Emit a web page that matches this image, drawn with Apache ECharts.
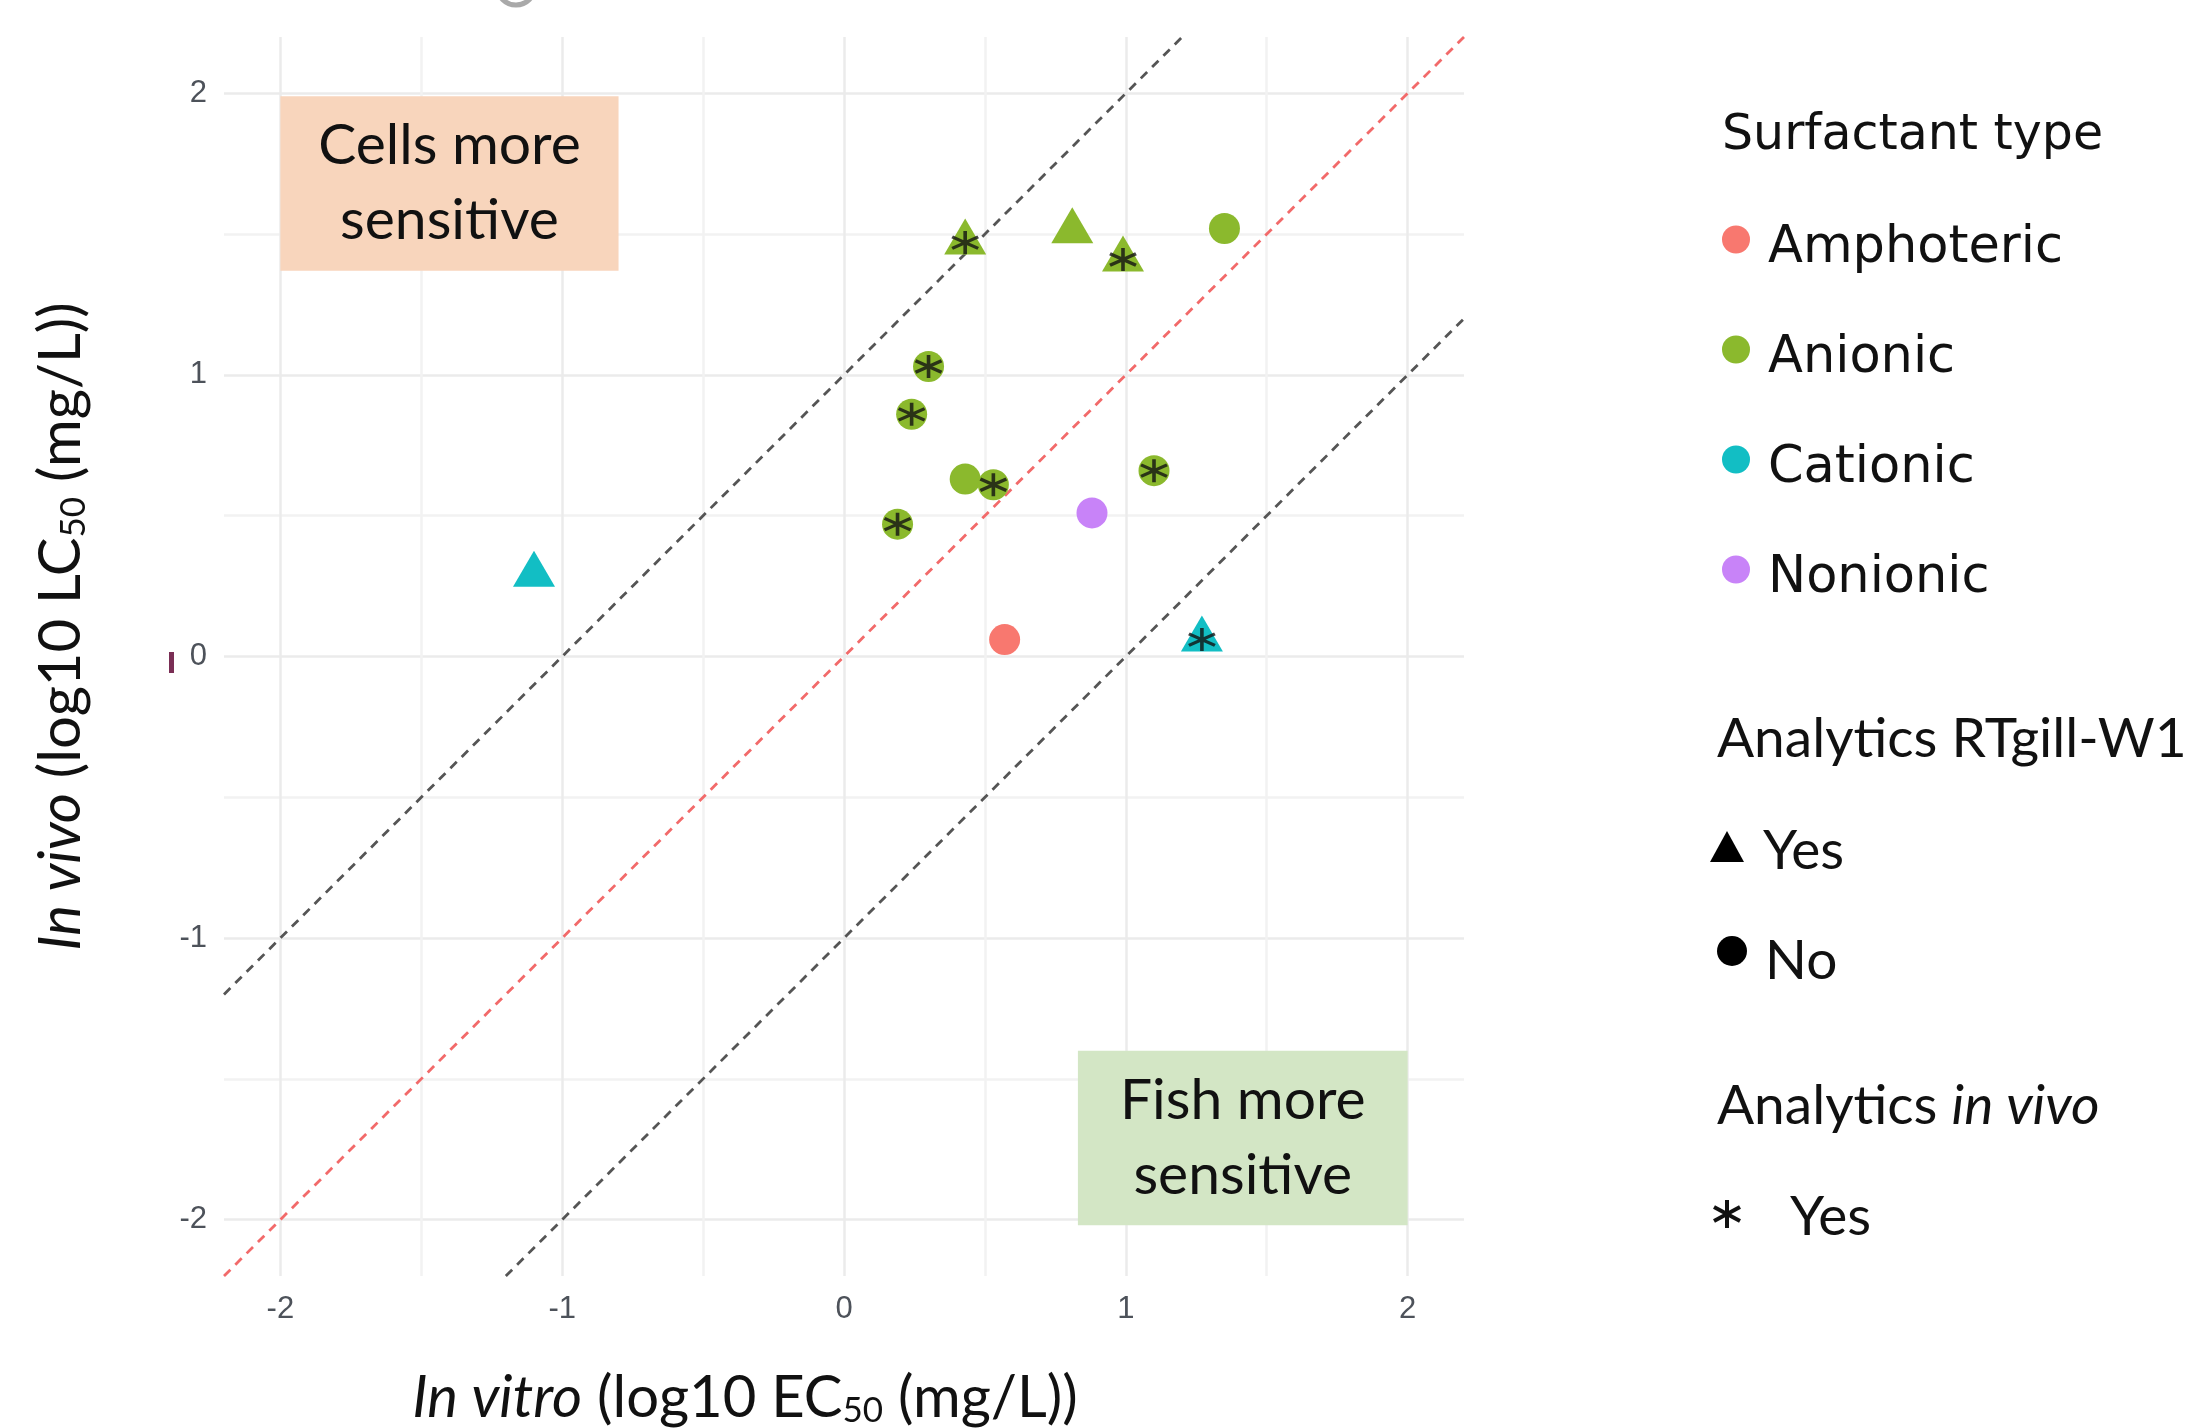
<!DOCTYPE html>
<html><head><meta charset="utf-8">
<script src="https://cdn.jsdelivr.net/npm/echarts@6/dist/echarts.min.js"></script>
<style>html,body{margin:0;padding:0;background:#fff}#c{width:2190px;height:1428px}</style>
</head><body><div id="c"></div>
<script>
// ---- data ----
const surfactantTypes = ['Amphoteric', 'Anionic', 'Cationic', 'Nonionic'];
const typeColors = ['#F8786F', '#8BB92D', '#12BEC4', '#C883F8'];
const inVitroLogEC50 = [-1.10, 0.43, 0.81, 0.99, 1.35, 0.30, 0.24, 0.43, 0.53, 1.10, 0.19, 0.88, 0.57, 1.27];
const inVivoLogLC50  = [ 0.29, 1.47, 1.51, 1.41, 1.52, 1.03, 0.86, 0.63, 0.61, 0.66, 0.47, 0.51, 0.06, 0.06];
const surfactant = ['Cationic', 'Anionic', 'Anionic', 'Anionic', 'Anionic', 'Anionic', 'Anionic',
                    'Anionic', 'Anionic', 'Anionic', 'Anionic', 'Nonionic', 'Amphoteric', 'Cationic'];
const analyticsRTgill = ['Yes', 'Yes', 'Yes', 'Yes', 'No', 'No', 'No', 'No', 'No', 'No', 'No', 'No', 'No', 'Yes'];
const analyticsInVivo = ['No', 'Yes', 'No', 'Yes', 'No', 'Yes', 'Yes', 'No', 'Yes', 'Yes', 'Yes', 'No', 'No', 'Yes'];
const axisTickValues = [-2, -1, 0, 1, 2];
const axisRange = [-2.2, 2.2];
const refLineOffsets = [0, 1, -1];          // y = x + offset
const refLineColors = ['#F26A6A', '#555555', '#555555'];

// ---- build ----
const ASTERISK = 'path://M0,-10L0,10M-8.66,-5L8.66,5M-8.66,5L8.66,-5';
const tickFormatter = v => axisTickValues.indexOf(v) >= 0 ? String(v) : '';

const refSeries = refLineOffsets.map((o, i) => {
  const x1 = Math.max(axisRange[0], axisRange[0] - o);
  const x2 = Math.min(axisRange[1], axisRange[1] - o);
  const s = {
    type: 'line', name: 'ref' + i, silent: true, symbol: 'none', z: 2,
    data: [[x1, x1 + o], [x2, x2 + o]],
    lineStyle: { color: refLineColors[i], width: 2.8, type: [9, 7] }
  };
  if (i === 0) {
    s.markArea = {
      silent: true,
      itemStyle: { opacity: 1 },
      label: { show: true, position: 'inside', fontFamily: 'Lato', fontSize: 57, lineHeight: 75, color: '#111' },
      data: [
        [{ coord: [-2.0, 1.99], itemStyle: { color: '#F8D5BC' }, label: { formatter: 'Cells more\nsensitive' } }, { coord: [-0.8, 1.37] }],
        [{ coord: [0.83, -1.40], itemStyle: { color: '#D3E6C5' }, label: { formatter: 'Fish more\nsensitive' } }, { coord: [2.0, -2.02] }]
      ]
    };
  }
  return s;
});

const typeSeries = surfactantTypes.map((t, ti) => ({
  type: 'scatter', name: t, z: 3,
  itemStyle: { color: typeColors[ti], opacity: 1 },
  data: inVitroLogEC50.map((x, i) => ({ x, i })).filter(d => surfactant[d.i] === t).map(d => {
    const tri = analyticsRTgill[d.i] === 'Yes';
    return {
      value: [d.x, inVivoLogLC50[d.i]],
      symbol: tri ? 'triangle' : 'circle',
      symbolSize: tri ? [42, 36] : 31,
      symbolOffset: tri ? [0, -6] : [0, 0]
    };
  })
}));

const asteriskSeries = {
  type: 'scatter', name: 'Analytics in vivo', z: 4, silent: true,
  symbol: ASTERISK, symbolSize: [26, 23],
  itemStyle: { color: 'rgba(0,0,0,0)', borderColor: '#111', borderWidth: 3.4 },
  data: inVitroLogEC50.map((x, i) => [x, inVivoLogLC50[i]]).filter((d, i) => analyticsInVivo[i] === 'Yes')
};

const axisCommon = {
  type: 'value', min: axisRange[0], max: axisRange[1], splitNumber: 9,
  axisLine: { show: false }, axisTick: { show: false },
  splitLine: { show: true, showMinLine: false, showMaxLine: false, lineStyle: { color: ['#EBEBEB', '#F2F2F2'], width: 2.5 } }
};
const tickLabel = { formatter: tickFormatter, fontFamily: 'Liberation Sans', fontSize: 31, color: '#4D525A' };
const nameStyle = (pad) => ({
  fontFamily: 'Lato', fontSize: 58, color: '#111', padding: pad,
  rich: {
    i: { fontFamily: 'Lato', fontSize: 58, fontStyle: 'italic', color: '#111' },
    s: { fontFamily: 'Lato', fontSize: 35, color: '#111', padding: [24, 0, 0, 0] }
  }
});

const option = {
  backgroundColor: '#fff',
  animation: false,
  grid: { left: 224, top: 37, width: 1240, height: 1239, containLabel: false, outerBoundsMode: 'none' },
  xAxis: Object.assign({}, axisCommon, {
    axisLabel: Object.assign({ margin: 18 }, tickLabel),
    name: '{i|In vitro} (log10 EC{s|50} (mg/L))', nameLocation: 'middle', nameGap: 93,
    nameTextStyle: nameStyle([0, 198, 0, 0])
  }),
  yAxis: Object.assign({}, axisCommon, {
    axisLabel: Object.assign({ margin: 17 }, tickLabel),
    name: '{i|In vivo} (log10 LC{s|50} (mg/L))', nameLocation: 'middle', nameRotate: 90, nameGap: 133,
    nameTextStyle: nameStyle([0, 0, 0, 60])
  }),
  legend: {
    orient: 'vertical', left: 1717, top: 200, itemWidth: 28, itemHeight: 28, itemGap: 41,
    selectedMode: false,
    data: surfactantTypes.map(n => ({ name: n, icon: 'circle' })),
    formatter: name => '{t|' + name + '}',
    textStyle: {
      fontFamily: 'DejaVu Sans', fontSize: 51, color: '#111', padding: [0, 0, 0, 13],
      rich: { t: { fontFamily: 'DejaVu Sans', fontSize: 51, color: '#111', lineHeight: 56, padding: [18, 0, 0, 0] } }
    }
  },
  graphic: [
    { type: 'text', left: 1722, top: 112, style: { text: 'Surfactant type', fontFamily: 'DejaVu Sans', fontSize: 49, fill: '#111' } },
    { type: 'text', left: 1717, top: 712, style: { text: 'Analytics RTgill-W1', fontFamily: 'Lato', fontSize: 55, fill: '#111' } },
    { type: 'polygon', shape: { points: [[1727, 831], [1744, 862], [1710, 862]] }, style: { fill: '#000' } },
    { type: 'text', left: 1763, top: 824, style: { text: 'Yes', fontFamily: 'Lato', fontSize: 55, fill: '#111' } },
    { type: 'circle', shape: { cx: 1732, cy: 951, r: 15 }, style: { fill: '#000' } },
    { type: 'text', left: 1765, top: 934, style: { text: 'No', fontFamily: 'Lato', fontSize: 55, fill: '#111' } },
    { type: 'text', left: 1717, top: 1079, style: { text: 'Analytics {i|in vivo}', fontFamily: 'Lato', fontSize: 55, fill: '#111',
        rich: { i: { fontFamily: 'Lato', fontSize: 55, fontStyle: 'italic', fill: '#111' } } } },
    { type: 'group', x: 1727, y: 1214, children: [
        { type: 'line', shape: { x1: 0, y1: -14, x2: 0, y2: 14 }, style: { stroke: '#111', lineWidth: 4 } },
        { type: 'line', shape: { x1: -13, y1: -7, x2: 13, y2: 7 }, style: { stroke: '#111', lineWidth: 4 } },
        { type: 'line', shape: { x1: -13, y1: 7, x2: 13, y2: -7 }, style: { stroke: '#111', lineWidth: 4 } }
    ] },
    { type: 'text', left: 1790, top: 1190, style: { text: 'Yes', fontFamily: 'Lato', fontSize: 55, fill: '#111' } },
    { type: 'rect', shape: { x: 169, y: 652, width: 5, height: 21 }, style: { fill: '#7A2E55' } },
    { type: 'arc', shape: { cx: 516, cy: -14, r: 19, startAngle: 0, endAngle: Math.PI }, style: { stroke: '#A9A9A9', lineWidth: 5, fill: null } }
  ],
  series: refSeries.concat(typeSeries, [asteriskSeries])
};

const chart = echarts.init(document.getElementById('c'), null, { renderer: 'canvas' });
chart.setOption(option);
</script>
</body></html>
